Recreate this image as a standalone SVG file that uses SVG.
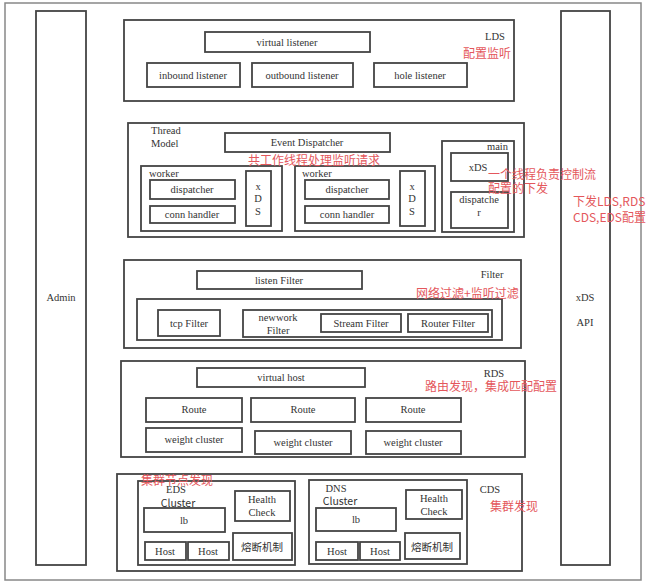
<svg xmlns="http://www.w3.org/2000/svg" width="650" height="584" viewBox="0 0 650 584">
<style>
.b{fill:#fff;stroke:#444;stroke-width:1.8}
.o{fill:#fff;stroke:#888;stroke-width:1.5}
.t{font-family:"Liberation Serif",serif;font-size:10.5px;fill:#333;text-anchor:middle;dominant-baseline:central}
.l{text-anchor:start}
.e{text-anchor:end}
.r{font-family:"Noto Sans CJK SC","Noto Sans",sans-serif;font-size:12px;fill:#e4575c;dominant-baseline:central}
.c{font-family:"Noto Sans CJK SC",sans-serif;font-size:10.5px;fill:#333;text-anchor:middle;dominant-baseline:central}
</style>
<rect width="650" height="584" fill="#fff"/>
<rect id="frame" class="o" x="5" y="3" width="636" height="577"/>
<g id="admin"><rect class="b" x="36" y="11" width="50" height="554"/><text class="t" x="61" y="297">Admin</text></g>
<g id="xds-api"><rect class="b" x="561" y="11" width="49" height="554"/><text class="t" x="585" y="297">xDS</text><text class="t" x="585" y="322">API</text></g>

<g id="lds">
<rect class="b" x="124" y="20" width="390" height="81"/>
<text class="t" x="495" y="36">LDS</text>
<text class="r" x="463" y="52">配置监听</text>
<g id="virtual-listener"><rect class="b" x="205" y="32" width="165" height="20"/><text class="t" x="287" y="42">virtual listener</text></g>
<g id="inbound-listener"><rect class="b" x="147" y="63" width="93" height="24"/><text class="t" x="193" y="75">inbound listener</text></g>
<g id="outbound-listener"><rect class="b" x="252" y="63" width="101" height="24"/><text class="t" x="302" y="75">outbound listener</text></g>
<g id="hole-listener"><rect class="b" x="374" y="63" width="93" height="24"/><text class="t" x="420" y="75">hole listener</text></g>
</g>

<g id="thread-model">
<rect class="b" x="128" y="123" width="396" height="114"/>
<text class="t l" x="151" y="130">Thread</text>
<text class="t l" x="151" y="143">Model</text>
<g id="event-dispatcher"><rect class="b" x="225" y="133" width="165" height="19"/><text class="t" x="307" y="142">Event Dispatcher</text></g>
<g id="worker1">
<rect class="b" x="141" y="166" width="141" height="65"/>
<text class="t l" x="149" y="173">worker</text>
<rect class="b" x="150" y="180" width="85" height="19"/><text class="t" x="192" y="189">dispatcher</text>
<rect class="b" x="150" y="206" width="85" height="17"/><text class="t" x="192" y="214">conn handler</text>
<rect class="b" x="246" y="171" width="25" height="55"/><text class="t" x="258" y="186">x</text><text class="t" x="258" y="198">D</text><text class="t" x="258" y="211">S</text>
</g>
<g id="worker2">
<rect class="b" x="295" y="166" width="140" height="65"/>
<text class="t l" x="302" y="173">worker</text>
<rect class="b" x="305" y="180" width="84" height="19"/><text class="t" x="347" y="189">dispatcher</text>
<rect class="b" x="305" y="206" width="84" height="17"/><text class="t" x="347" y="214">conn handler</text>
<rect class="b" x="400" y="171" width="25" height="55"/><text class="t" x="412" y="186">x</text><text class="t" x="412" y="198">D</text><text class="t" x="412" y="211">S</text>
</g>
<g id="main">
<rect class="b" x="442" y="141" width="72" height="91"/>
<text class="t e" x="508" y="146">main</text>
<rect class="b" x="451" y="153" width="57" height="28"/><text class="t" x="478" y="167">xDS</text>
<rect class="b" x="451" y="192" width="57" height="36"/><text class="t" x="479" y="199">dispatche</text><text class="t" x="479" y="212">r</text>
</g>
<text class="r" x="248" y="159">共工作线程处理监听请求</text>
<text class="r" x="488" y="173">一个线程负责控制流</text>
<text class="r" x="488" y="187">配置的下发</text>
</g>

<text class="r" x="573" y="200">下发LDS,RDS</text>
<text class="r" x="573" y="216">CDS,EDS配置</text>

<g id="filter">
<rect class="b" x="124" y="260" width="397" height="88"/>
<text class="t" x="492" y="274">Filter</text>
<g id="listen-filter"><rect class="b" x="197" y="271" width="165" height="18"/><text class="t" x="279" y="280">listen Filter</text></g>
<rect class="b" x="137" y="299" width="365" height="41"/>
<g id="tcp-filter"><rect class="b" x="158" y="310" width="62" height="26"/><text class="t" x="189" y="323">tcp Filter</text></g>
<g id="network-filter">
<rect class="b" x="243" y="310" width="249" height="27"/>
<text class="t" x="278" y="317">newwork</text><text class="t" x="278" y="330">Filter</text>
<rect class="b" x="321" y="314" width="80" height="18"/><text class="t" x="361" y="323">Stream Filter</text>
<rect class="b" x="408" y="314" width="80" height="18"/><text class="t" x="448" y="323">Router Filter</text>
</g>
<text class="r" x="416" y="292">网络过滤+监听过滤</text>
</g>

<g id="rds">
<rect class="b" x="121" y="361" width="404" height="96"/>
<text class="t" x="494" y="373">RDS</text>
<g id="virtual-host"><rect class="b" x="197" y="368" width="168" height="19"/><text class="t" x="281" y="377">virtual host</text></g>
<rect class="b" x="146" y="398" width="96" height="24"/><text class="t" x="194" y="409">Route</text>
<rect class="b" x="251" y="398" width="104" height="24"/><text class="t" x="303" y="409">Route</text>
<rect class="b" x="366" y="398" width="95" height="24"/><text class="t" x="413" y="409">Route</text>
<rect class="b" x="146" y="428" width="96" height="24"/><text class="t" x="194" y="439">weight cluster</text>
<rect class="b" x="255" y="431" width="96" height="23"/><text class="t" x="303" y="442">weight cluster</text>
<rect class="b" x="366" y="431" width="95" height="23"/><text class="t" x="413" y="442">weight cluster</text>
<text class="r" x="425" y="385">路由发现，集成匹配配置</text>
</g>

<g id="cds">
<rect class="b" x="117" y="474" width="405" height="97"/>
<text class="t" x="490" y="489">CDS</text>
<text class="r" x="490" y="505">集群发现</text>
<g id="eds-cluster">
<rect class="b" x="138" y="481" width="157" height="84"/>
<text class="t" x="176" y="489">EDS</text><text class="c" x="178" y="502">Cluster</text>
<rect class="b" x="235" y="491" width="55" height="30"/><text class="t" x="262" y="499">Health</text><text class="t" x="262" y="512">Check</text>
<rect class="b" x="144" y="508" width="81" height="24"/><text class="t" x="184" y="520">lb</text>
<rect class="b" x="145" y="542" width="41" height="18"/><text class="t" x="165" y="551">Host</text>
<rect class="b" x="188" y="542" width="41" height="18"/><text class="t" x="208" y="551">Host</text>
<rect class="b" x="233" y="533" width="59" height="27"/><text class="c" x="262" y="546">熔断机制</text>
</g>
<text class="r" x="141" y="479">集群节点发现</text>
<g id="dns-cluster">
<rect class="b" x="309" y="480" width="158" height="84"/>
<text class="t" x="336" y="488">DNS</text><text class="c" x="340" y="500">Cluster</text>
<rect class="b" x="406" y="490" width="56" height="29"/><text class="t" x="434" y="498">Health</text><text class="t" x="434" y="511">Check</text>
<rect class="b" x="316" y="508" width="80" height="23"/><text class="t" x="356" y="519">lb</text>
<rect class="b" x="316" y="542" width="42" height="18"/><text class="t" x="337" y="551">Host</text>
<rect class="b" x="360" y="542" width="40" height="18"/><text class="t" x="380" y="551">Host</text>
<rect class="b" x="405" y="533" width="55" height="26"/><text class="c" x="432" y="546">熔断机制</text>
</g>
</g>
<g id="connectors"></g>
</svg>
